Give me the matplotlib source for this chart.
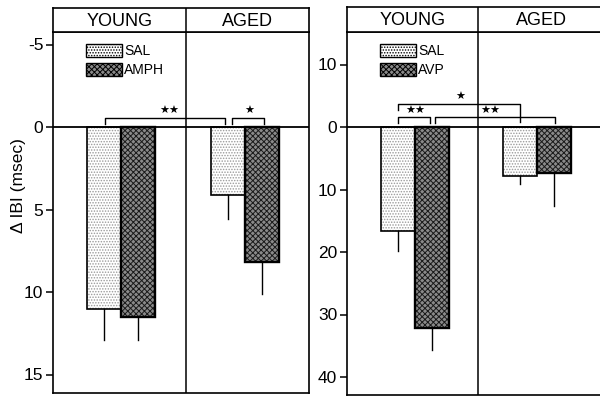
import matplotlib
matplotlib.use("Agg")
import matplotlib.pyplot as plt
from matplotlib.patches import Patch

plt.rcParams['font.family'] = ['Liberation Sans', 'DejaVu Sans']
plt.rcParams['hatch.linewidth'] = 0.7

# ---- data ----
groups = ["YOUNG", "AGED"]
left_series = ["SAL", "AMPH"]
left_means = {"SAL": [11.0, 4.1], "AMPH": [11.5, 8.2]}
left_err = {"SAL": [1.9, 1.5], "AMPH": [1.4, 1.9]}
left_ticks = [-5, 0, 5, 10, 15]
left_ticklabels = ["-5", "0", "5", "10", "15"]

right_series = ["SAL", "AVP"]
right_means = {"SAL": [16.6, 7.8], "AVP": [32.2, 7.4]}
right_err = {"SAL": [3.2, 1.3], "AVP": [3.5, 5.3]}
right_ticks = [-10, 0, 10, 20, 30, 40]
right_ticklabels = ["10", "0", "10", "20", "30", "40"]

ylabel = "\u0394 IBI (msec)"

W, H = 600, 396
fig = plt.figure(figsize=(6, 3.96), dpi=100)

def fx(px):
    return px / W

def fy(py):
    return 1 - py / H

SAL_STYLE = dict(face="white", hatch="......", hcolor="#9a9a9a")
DRUG_STYLE = dict(face="#8a8a8a", hatch="xxxxxx", hcolor="#1a1a1a")
styles = [SAL_STYLE, DRUG_STYLE]


def draw_bar(ax, x, h, st, width=1.0, lw=1.3):
    ax.bar(x, h, width=width, bottom=0, color=st["face"], hatch=st["hatch"],
           edgecolor=st["hcolor"], linewidth=0, zorder=2)
    ax.bar(x, h, width=width, bottom=0, fill=False, edgecolor="black",
           linewidth=lw, zorder=3)


def panel(x0, x1, ytop, ybot, px_per_unit, zero_px, series, means, errs,
          ticks, ticklabels, group_centers, divider, header_top, show_right):
    ax = fig.add_axes([fx(x0), fy(ybot), fx(x1 - x0), fy(ytop) - fy(ybot)])
    bw = 34.0
    ax.set_xlim(0, (x1 - x0) / bw)
    ax.set_ylim((ybot - zero_px) / px_per_unit, -(zero_px - ytop) / px_per_unit)
    for gi, gc in enumerate(group_centers):
        for si, s in enumerate(series):
            xc = gc + (si - 0.5)
            v = means[s][gi]
            draw_bar(ax, xc, v, styles[si], lw=1.2 if si == 0 else 1.7)
            ax.plot([xc, xc], [v, v + errs[s][gi]], color="black", lw=1.0, zorder=4)
    ax.axhline(0, color="black", lw=1.3, zorder=5)
    ax.axvline(divider, color="black", lw=1.1, zorder=1)
    ax.set_yticks(ticks)
    ax.set_yticklabels(ticklabels, fontsize=12.5)
    ax.set_xticks([])
    ax.tick_params(axis="y", direction="out", length=5, width=1.1, pad=2)
    for side in ["left", "bottom", "right", "top"]:
        ax.spines[side].set_linewidth(1.2)
    if not show_right:
        ax.spines["right"].set_visible(False)
    handles = [Patch(facecolor=styles[i]["face"], hatch=styles[i]["hatch"],
                     edgecolor=styles[i]["hcolor"], linewidth=0) for i in range(2)]
    leg = ax.legend(handles, series, loc="upper left",
                    bbox_to_anchor=((group_centers[0] - 1.0) * bw / (x1 - x0) - 0.005,
                                    1 - 12 / (ybot - ytop)),
                    frameon=False, fontsize=10, handlelength=2.6, handleheight=1.1,
                    labelspacing=0.3, handletextpad=0.15, borderpad=0, borderaxespad=0)
    for p in leg.get_patches():
        p.set_edgecolor("black")
        p.set_linewidth(1.0)
    # header
    hx = fig.add_axes([fx(x0), fy(ytop), fx(x1 - x0), fy(header_top) - fy(ytop)])
    hx.set_xlim(0, (x1 - x0) / bw)
    hx.set_ylim(0, 1)
    hx.set_xticks([])
    hx.set_yticks([])
    for side in ["left", "bottom", "right", "top"]:
        hx.spines[side].set_linewidth(1.2)
    if not show_right:
        hx.spines["right"].set_visible(False)
    hx.axvline(divider, color="black", lw=1.1)
    xmax = (x1 - x0) / bw
    hx.text(divider / 2, 0.45, groups[0], ha="center", va="center", fontsize=13)
    hx.text((divider + xmax) / 2, 0.45, groups[1], ha="center", va="center", fontsize=13)
    return ax


def bracket(ax, xa, xb, y, ya, yb, label, lx, ly):
    ax.plot([xa, xa, xb, xb], [ya, y, y, yb], color="black", lw=1.0, zorder=6)
    ax.text(lx, ly, label, ha="center", va="center", fontsize=8,
            family="DejaVu Sans", zorder=6)


# left panel
axL = panel(53, 309, 32, 393, 16.5, 127, left_series, left_means, left_err,
            left_ticks, left_ticklabels, [2.0, 5.65], 3.9, 8, True)
axL.set_ylabel(ylabel, fontsize=12.5)
axL.yaxis.set_label_coords(-0.105, 0.575)
bracket(axL, 1.52, 5.05, -0.55, -0.18, -0.18, "\u2605\u2605", 3.43, -0.98)
bracket(axL, 5.25, 6.2, -0.55, -0.18, -0.18, "\u2605", 5.76, -0.98)

# right panel
axR = panel(347, 606, 32, 395, 6.25, 127, right_series, right_means, right_err,
            right_ticks, right_ticklabels, [2.0, 5.6], 3.85, 7, False)
bracket(axR, 1.5, 2.44, -1.6, -0.64, -0.64, "\u2605\u2605", 2.0, -2.6)
bracket(axR, 1.5, 5.09, -3.68, -2.72, -0.8, "\u2605", 3.32, -4.8)
bracket(axR, 2.59, 6.12, -1.6, -0.64, -0.64, "\u2605\u2605", 4.2, -2.6)

fig.savefig("out.png", dpi=100)
